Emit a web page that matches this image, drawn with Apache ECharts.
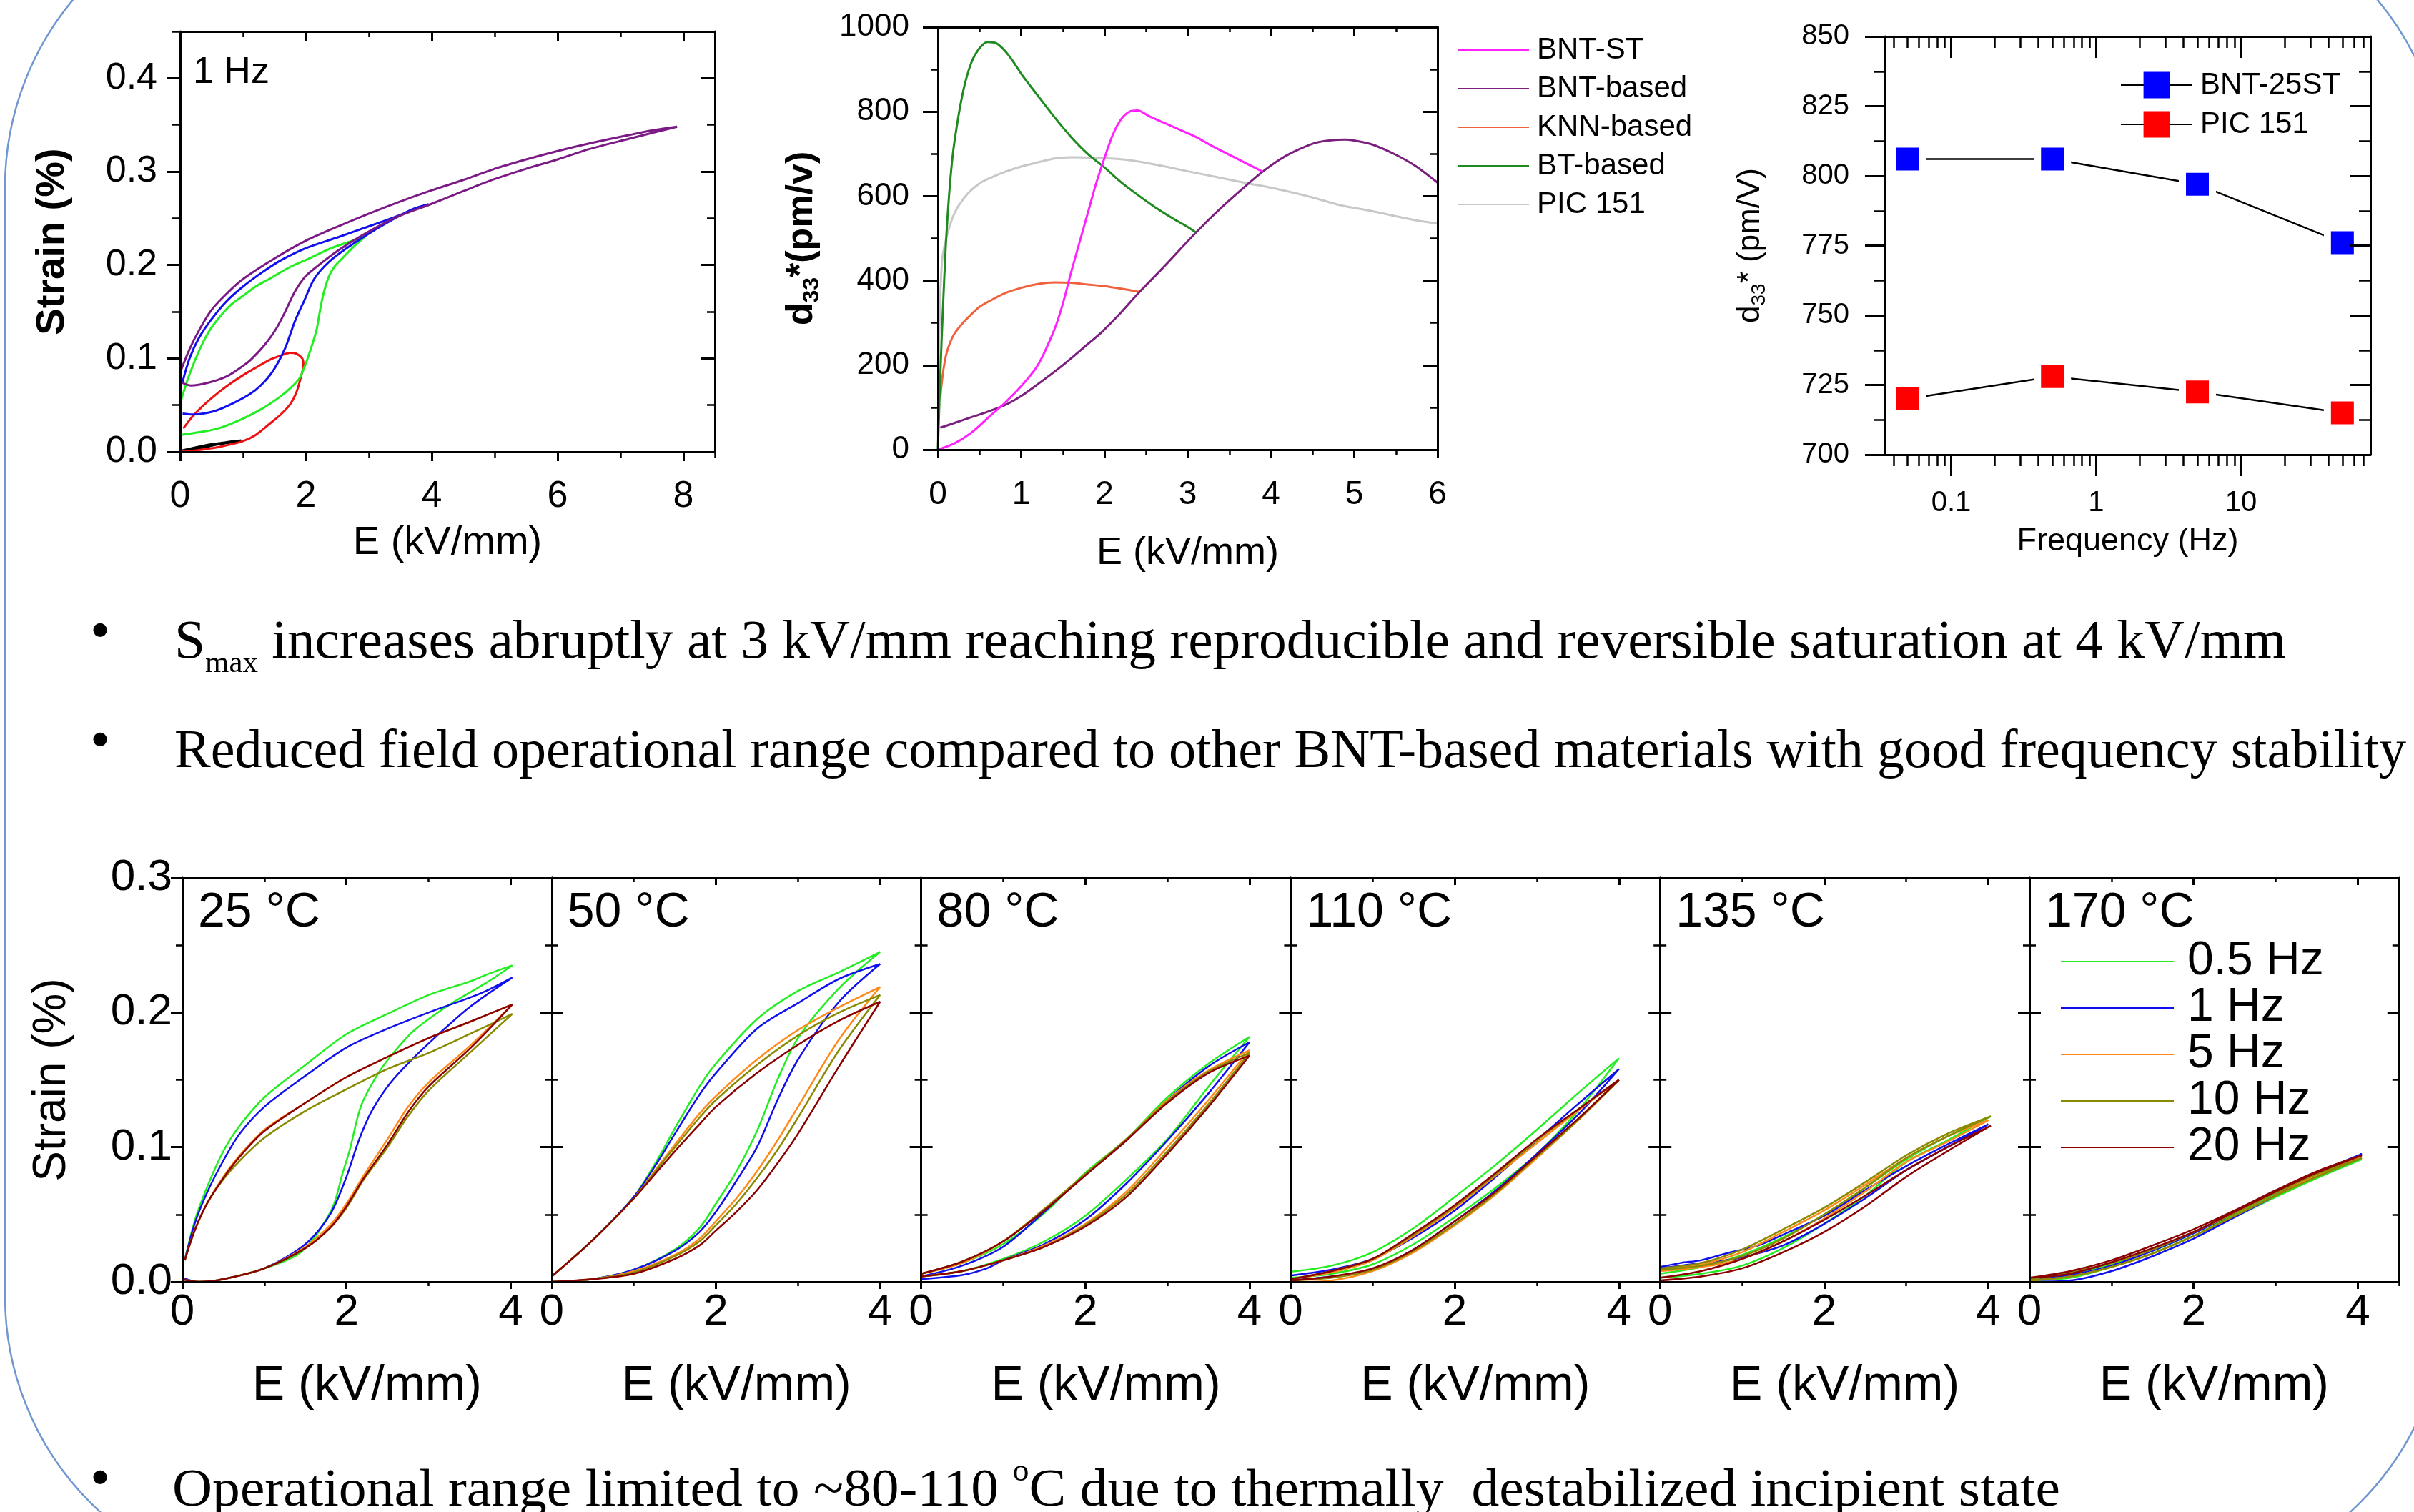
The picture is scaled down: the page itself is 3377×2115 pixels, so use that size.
<!DOCTYPE html>
<html><head><meta charset="utf-8">
<script src="https://cdn.jsdelivr.net/npm/echarts@6/dist/echarts.min.js"></script>
<style>html,body{margin:0;padding:0;background:#fff}#c{width:3377px;height:2115px}</style>
</head><body><div id="c"></div>
<script>
// ================= DATA =================
// --- Top-left: strain loops at 1 Hz for different max fields ---
const TL_1kV = [[0,0],[0.2,0.002],[0.4,0.005],[0.6,0.008],[0.8,0.010],[0.97,0.012],[0.8,0.011],[0.6,0.009],[0.4,0.007],[0.2,0.004],[0,0.001]];
const TL_2kV = [[0,0],[0.3,0.002],[0.6,0.005],[0.98,0.011],[1.2,0.018],[1.44,0.031],[1.6,0.04],[1.75,0.051],[1.85,0.064],[1.92,0.08],[1.96,0.093],[1.94,0.1],[1.85,0.105],[1.75,0.106],[1.6,0.103],[1.44,0.099],[1.2,0.09],[1.0,0.082],[0.82,0.074],[0.6,0.063],[0.36,0.049],[0.2,0.038],[0.05,0.025]];
const TL_3kV = [[0,0.018],[0.3,0.021],[0.6,0.025],[0.98,0.035],[1.3,0.046],[1.59,0.059],[1.75,0.068],[1.9,0.079],[2.0,0.095],[2.1,0.115],[2.17,0.131],[2.22,0.15],[2.27,0.167],[2.36,0.187],[2.45,0.198],[2.59,0.208],[2.75,0.219],[2.94,0.23],
  [2.7,0.225],[2.4,0.218],[2.05,0.207],[1.75,0.198],[1.44,0.186],[1.2,0.177],[1.0,0.167],[0.8,0.157],[0.6,0.142],[0.45,0.128],[0.3,0.108],[0.15,0.083],[0.05,0.063],[0,0.052]];
const TL_4kV = [[0.04,0.041],[0.2,0.040],[0.52,0.043],[0.75,0.049],[1.09,0.061],[1.28,0.071],[1.48,0.087],[1.67,0.111],[1.82,0.139],[1.98,0.163],[2.13,0.185],[2.36,0.203],[2.67,0.219],[3.13,0.239],[3.67,0.259],[3.95,0.265],
  [3.67,0.258],[3.28,0.248],[2.9,0.239],[2.52,0.23],[2.0,0.218],[1.6,0.205],[1.3,0.192],[1.0,0.177],[0.75,0.162],[0.5,0.142],[0.3,0.122],[0.15,0.1],[0.04,0.075]];
const TL_8kV = [[0,0.075],[0.17,0.071],[0.45,0.074],[0.75,0.081],[1.0,0.092],[1.13,0.099],[1.35,0.115],[1.52,0.131],[1.67,0.15],[1.82,0.171],[1.98,0.187],[2.13,0.196],[2.5,0.215],[2.9,0.232],[3.4,0.25],[3.98,0.265],[4.5,0.279],[5.0,0.292],[5.5,0.303],[6.0,0.313],[6.5,0.324],[7.13,0.335],[7.6,0.343],[7.9,0.348],
  [7.5,0.344],[7.13,0.339],[6.5,0.33],[6.0,0.322],[5.5,0.313],[5.0,0.303],[4.5,0.291],[4.0,0.28],[3.5,0.268],[3.0,0.255],[2.5,0.241],[2.0,0.226],[1.5,0.207],[1.0,0.185],[0.75,0.17],[0.5,0.152],[0.3,0.13],[0.15,0.11],[0,0.085]];

// --- Top-middle: d33* vs E ---
const MID_NAMES = ['BNT-ST','BNT-based','KNN-based','BT-based','PIC 151'];
const MID_BNT_ST = [[0,0],[0.2,15],[0.4,40],[0.6,75],[0.8,110],[1.0,150],[1.2,200],[1.4,285],[1.5,345],[1.6,420],[1.7,490],[1.8,560],[1.9,630],[2.0,690],[2.1,745],[2.2,782],[2.3,800],[2.4,803],[2.53,790],[2.7,775],[3.0,749],[3.1,740],[3.3,718],[3.6,688],[3.9,658]];
const MID_BNT_BASED = [[0.03,52],[0.3,70],[0.6,90],[0.8,105],[1.0,127],[1.2,155],[1.5,200],[1.8,250],[1.96,277],[2.2,325],[2.42,373],[2.7,430],[3.1,514],[3.4,572],[3.73,630],[3.9,658],[4.1,686],[4.25,703],[4.53,726],[4.7,732],[4.9,734],[5.1,728],[5.25,720],[5.5,698],[5.73,672],[6.0,632]];
const MID_KNN = [[0.03,125],[0.06,180],[0.1,225],[0.15,255],[0.2,275],[0.3,300],[0.4,320],[0.5,338],[0.65,355],[0.8,370],[1.0,383],[1.2,392],[1.4,396],[1.6,395],[1.8,391],[2.0,387],[2.2,381],[2.43,373]];
const MID_BT = [[0,0],[0.03,180],[0.06,330],[0.1,500],[0.15,640],[0.2,730],[0.3,845],[0.4,915],[0.5,950],[0.6,965],[0.7,962],[0.8,945],[0.9,920],[1.0,890],[1.2,838],[1.4,787],[1.6,740],[1.8,700],[2.0,668],[2.2,633],[2.4,603],[2.6,575],[2.8,550],[3.0,527],[3.1,514]];
const MID_PIC = [[0,0],[0.02,300],[0.05,445],[0.1,500],[0.2,560],[0.35,604],[0.5,630],[0.65,645],[0.8,657],[1.0,670],[1.2,680],[1.4,689],[1.6,692],[1.96,690],[2.27,686],[2.6,675],[3.1,655],[3.73,630],[4.0,620],[4.5,597],[4.82,579],[5.2,565],[5.73,543],[6.0,535]];

// --- Top-right: d33* vs frequency ---
const FREQ = [0.05, 0.5, 5, 50];
const D33_BNT25ST = [806, 806, 797, 776];
const D33_PIC151 = [720, 728, 722.5, 715];
const FREQ_TICKS = [0.1, 1, 10];
const FREQ_MINOR = [0.04,0.05,0.06,0.07,0.08,0.09,0.2,0.3,0.4,0.5,0.6,0.7,0.8,0.9,2,3,4,5,6,7,8,9,20,30,40,50,60,70];

// --- Bottom: strain loops per temperature, per frequency ---
const FREQ_NAMES = ['0.5 Hz','1 Hz','5 Hz','10 Hz','20 Hz'];
const TEMPS = ['25 °C','50 °C','80 °C','110 °C','135 °C','170 °C'];

const T25_05 = [[0,0.003],[0.2,0],[0.5,0.002],[1.0,0.01],[1.4,0.02],[1.6,0.032],[1.75,0.046],[1.85,0.058],[1.95,0.08],[2.04,0.098],[2.18,0.131],[2.4,0.156],[2.6,0.172],[2.83,0.187],[3.26,0.206],[3.7,0.222],[4.02,0.235],[3.7,0.228],[3.5,0.223],[3.0,0.213],[2.5,0.199],[2.0,0.184],[1.5,0.161],[1.0,0.137],[0.7,0.116],[0.5,0.097],[0.3,0.07],[0.15,0.045],[0.03,0.016]];
const T25_1 = [[0,0.003],[0.2,0],[0.5,0.002],[1.0,0.01],[1.5,0.028],[1.8,0.05],[2.0,0.078],[2.15,0.105],[2.3,0.126],[2.5,0.145],[2.7,0.159],[3.0,0.177],[3.5,0.204],[4.02,0.226],[3.7,0.216],[3.5,0.211],[3.0,0.2],[2.5,0.188],[2.0,0.174],[1.5,0.153],[1.0,0.13],[0.7,0.11],[0.5,0.09],[0.3,0.066],[0.15,0.043],[0.03,0.016]];
const T25_5 = [[0,0.002],[0.2,0],[0.5,0.002],[1.0,0.01],[1.5,0.026],[1.8,0.042],[2.0,0.058],[2.2,0.078],[2.5,0.106],[2.75,0.13],[3.0,0.148],[3.5,0.175],[4.02,0.206],[3.5,0.193],[3.0,0.181],[2.5,0.167],[2.0,0.152],[1.5,0.133],[1.0,0.113],[0.7,0.094],[0.5,0.078],[0.3,0.058],[0.15,0.038],[0.03,0.016]];
const T25_10 = [[0,0.002],[0.2,0],[0.5,0.002],[1.0,0.01],[1.5,0.025],[1.8,0.04],[2.0,0.055],[2.2,0.075],[2.5,0.1],[2.75,0.123],[3.0,0.142],[3.5,0.17],[4.02,0.199],[3.5,0.184],[3.0,0.17],[2.5,0.158],[2.0,0.143],[1.5,0.127],[1.0,0.107],[0.7,0.09],[0.5,0.076],[0.3,0.058],[0.15,0.038],[0.03,0.016]];
const T25_20 = [[0,0.002],[0.2,0],[0.5,0.002],[1.0,0.01],[1.5,0.025],[1.8,0.04],[2.0,0.056],[2.2,0.076],[2.5,0.102],[2.75,0.126],[3.0,0.145],[3.5,0.173],[4.02,0.206],[3.5,0.193],[3.0,0.181],[2.5,0.167],[2.0,0.152],[1.5,0.133],[1.0,0.112],[0.7,0.093],[0.5,0.077],[0.3,0.058],[0.15,0.038],[0.03,0.016]];

const T50_05 = [[0,0],[0.5,0.002],[1.0,0.009],[1.5,0.024],[1.8,0.04],[2.0,0.058],[2.25,0.082],[2.5,0.112],[2.75,0.15],[3.0,0.181],[3.5,0.218],[4.0,0.245],[3.5,0.23],[3.0,0.216],[2.5,0.195],[2.0,0.162],[1.8,0.145],[1.5,0.114],[1.3,0.092],[1.0,0.063],[0.5,0.031],[0,0.004]];
const T50_1 = [[0,0],[0.5,0.002],[1.0,0.009],[1.5,0.023],[1.8,0.037],[2.0,0.052],[2.25,0.075],[2.5,0.1],[2.75,0.135],[3.0,0.165],[3.5,0.208],[4.0,0.236],[3.5,0.225],[3.0,0.207],[2.5,0.188],[2.0,0.155],[1.8,0.139],[1.5,0.11],[1.3,0.09],[1.0,0.063],[0.5,0.031],[0,0.004]];
const T50_5 = [[0,0],[0.5,0.002],[1.0,0.008],[1.5,0.02],[1.8,0.032],[2.0,0.045],[2.25,0.062],[2.5,0.082],[2.75,0.105],[3.0,0.13],[3.5,0.18],[4.0,0.219],[3.5,0.204],[3.0,0.187],[2.5,0.165],[2.0,0.138],[1.8,0.125],[1.5,0.102],[1.3,0.086],[1.0,0.062],[0.5,0.031],[0,0.004]];
const T50_10 = [[0,0],[0.5,0.002],[1.0,0.007],[1.5,0.019],[1.8,0.03],[2.0,0.042],[2.25,0.058],[2.5,0.077],[2.75,0.098],[3.0,0.122],[3.5,0.172],[4.0,0.213],[3.5,0.2],[3.0,0.183],[2.5,0.161],[2.0,0.135],[1.8,0.122],[1.5,0.1],[1.3,0.085],[1.0,0.062],[0.5,0.031],[0,0.004]];
const T50_20 = [[0,0],[0.5,0.002],[1.0,0.006],[1.5,0.017],[1.8,0.027],[2.0,0.038],[2.25,0.052],[2.5,0.068],[2.75,0.088],[3.0,0.11],[3.5,0.16],[4.0,0.208],[3.5,0.194],[3.0,0.176],[2.5,0.155],[2.0,0.13],[1.8,0.117],[1.5,0.097],[1.3,0.083],[1.0,0.062],[0.5,0.031],[0,0.004]];

const T80_05 = [[0,0.004],[0.5,0.008],[1.0,0.017],[1.5,0.03],[2.0,0.049],[2.5,0.076],[3.0,0.106],[3.5,0.145],[4.0,0.182],[3.5,0.162],[3.0,0.137],[2.5,0.106],[2.0,0.081],[1.5,0.051],[1.0,0.028],[0.5,0.014],[0,0.006]];
const T80_1 = [[0,0.002],[0.5,0.005],[0.8,0.01],[1.0,0.016],[1.5,0.028],[2.0,0.046],[2.5,0.073],[3.0,0.105],[3.5,0.14],[4.0,0.178],[3.5,0.16],[3.0,0.135],[2.5,0.105],[2.0,0.08],[1.5,0.052],[1.0,0.026],[0.5,0.012],[0,0.004]];
const T80_5 = [[0,0.004],[0.5,0.008],[1.0,0.016],[1.5,0.027],[2.0,0.043],[2.5,0.067],[3.0,0.1],[3.5,0.135],[4.0,0.172],[3.5,0.157],[3.0,0.135],[2.5,0.106],[2.0,0.08],[1.5,0.054],[1.0,0.03],[0.5,0.014],[0,0.006]];
const T80_10 = [[0,0.004],[0.5,0.008],[1.0,0.016],[1.5,0.026],[2.0,0.042],[2.5,0.065],[3.0,0.097],[3.5,0.132],[4.0,0.17],[3.5,0.156],[3.0,0.134],[2.5,0.106],[2.0,0.08],[1.5,0.054],[1.0,0.03],[0.5,0.015],[0,0.006]];
const T80_20 = [[0,0.004],[0.5,0.008],[1.0,0.016],[1.5,0.026],[2.0,0.041],[2.5,0.063],[3.0,0.095],[3.5,0.13],[4.0,0.168],[3.5,0.155],[3.0,0.133],[2.5,0.105],[2.0,0.079],[1.5,0.053],[1.0,0.03],[0.5,0.015],[0,0.006]];

const T110_05 = [[0,0.003],[0.5,0.006],[1.0,0.013],[1.5,0.028],[2.0,0.048],[2.5,0.07],[3.0,0.095],[3.5,0.127],[4.0,0.166],[3.5,0.14],[3.0,0.113],[2.5,0.087],[2.0,0.063],[1.5,0.04],[1.0,0.022],[0.5,0.012],[0,0.0075]];
const T110_1 = [[0,0.001],[0.5,0.004],[1.0,0.009],[1.5,0.024],[2.0,0.045],[2.5,0.068],[3.0,0.095],[3.5,0.124],[4.0,0.158],[3.5,0.132],[3.0,0.105],[2.5,0.078],[2.0,0.053],[1.5,0.033],[1.0,0.017],[0.5,0.009],[0,0.0047]];
const T110_5 = [[0.1,0],[0.5,0.001],[1.0,0.008],[1.5,0.022],[2.0,0.042],[2.5,0.065],[3.0,0.092],[3.5,0.12],[4.0,0.15],[3.5,0.127],[3.0,0.103],[2.5,0.079],[2.0,0.055],[1.5,0.034],[1.0,0.016],[0.5,0.007],[0,0.002]];
const T110_10 = [[0,0.001],[0.5,0.003],[1.0,0.009],[1.5,0.023],[2.0,0.043],[2.5,0.066],[3.0,0.093],[3.5,0.12],[4.0,0.15],[3.5,0.128],[3.0,0.105],[2.5,0.08],[2.0,0.056],[1.5,0.035],[1.0,0.017],[0.5,0.008],[0,0.002]];
const T110_20 = [[0,0.001],[0.5,0.004],[1.0,0.01],[1.5,0.024],[2.0,0.045],[2.5,0.067],[3.0,0.094],[3.5,0.121],[4.0,0.15],[3.5,0.128],[3.0,0.106],[2.5,0.081],[2.0,0.057],[1.5,0.036],[1.0,0.017],[0.5,0.008],[0,0.002]];

const T135_05 = [[0,0.003],[0.5,0.006],[1.0,0.012],[1.5,0.025],[2.0,0.043],[2.5,0.064],[3.0,0.089],[3.5,0.105],[4.03,0.123],[3.5,0.108],[3.0,0.091],[2.5,0.07],[2.0,0.05],[1.5,0.033],[1.0,0.02],[0.5,0.011],[0,0.006]];
const T135_1 = [[0,0.01],[0.25,0.012],[0.5,0.014],[0.8,0.016],[1.0,0.018],[1.5,0.027],[2.0,0.043],[2.5,0.062],[3.0,0.083],[3.5,0.1],[4.0,0.117],[3.5,0.102],[3.0,0.086],[2.5,0.068],[2.0,0.049],[1.5,0.035],[1.2,0.027],[0.8,0.021],[0.5,0.016],[0.25,0.014],[0,0.011]];
const T135_5 = [[0,0.008],[0.5,0.011],[1.0,0.017],[1.5,0.03],[2.0,0.047],[2.5,0.067],[3.0,0.089],[3.5,0.104],[4.0,0.12],[3.5,0.108],[3.0,0.092],[2.5,0.072],[2.0,0.053],[1.5,0.037],[1.0,0.022],[0.5,0.013],[0,0.009]];
const T135_10 = [[0,0.009],[0.5,0.012],[1.0,0.019],[1.5,0.032],[2.0,0.05],[2.5,0.07],[3.0,0.092],[3.5,0.108],[4.03,0.123],[3.5,0.11],[3.0,0.094],[2.5,0.074],[2.0,0.055],[1.5,0.039],[1.0,0.024],[0.5,0.014],[0,0.01]];
const T135_20 = [[0,0.001],[0.5,0.004],[1.0,0.01],[1.5,0.022],[2.0,0.037],[2.5,0.056],[3.0,0.078],[3.5,0.097],[4.03,0.116],[3.5,0.1],[3.0,0.083],[2.5,0.064],[2.0,0.046],[1.5,0.03],[1.0,0.017],[0.5,0.008],[0,0.003]];

const T170_05 = [[0,0.001],[0.5,0.003],[1.0,0.011],[1.5,0.021],[2.0,0.034],[2.5,0.048],[3.0,0.063],[3.5,0.077],[4.05,0.091],[3.5,0.079],[3.0,0.065],[2.5,0.05],[2.0,0.036],[1.5,0.023],[1.0,0.013],[0.5,0.006],[0,0.002]];
const T170_1 = [[0,0],[0.5,0.001],[1.0,0.008],[1.5,0.019],[2.0,0.032],[2.5,0.048],[3.0,0.064],[3.5,0.08],[4.05,0.095],[3.5,0.081],[3.0,0.066],[2.5,0.051],[2.0,0.036],[1.5,0.023],[1.0,0.012],[0.5,0.005],[0,0.001]];
const T170_5 = [[0,0.001],[0.5,0.004],[1.0,0.011],[1.5,0.021],[2.0,0.034],[2.5,0.049],[3.0,0.064],[3.5,0.079],[4.05,0.093],[3.5,0.08],[3.0,0.066],[2.5,0.051],[2.0,0.037],[1.5,0.024],[1.0,0.014],[0.5,0.007],[0,0.002]];
const T170_10 = [[0,0.001],[0.5,0.004],[1.0,0.011],[1.5,0.021],[2.0,0.034],[2.5,0.049],[3.0,0.064],[3.5,0.078],[4.05,0.092],[3.5,0.08],[3.0,0.066],[2.5,0.051],[2.0,0.037],[1.5,0.024],[1.0,0.014],[0.5,0.007],[0,0.002]];
const T170_20 = [[0,0.003],[0.5,0.006],[1.0,0.0145],[1.5,0.025],[2.0,0.037],[2.5,0.052],[3.0,0.067],[3.5,0.081],[4.05,0.094],[3.5,0.082],[3.0,0.068],[2.5,0.053],[2.0,0.039],[1.5,0.027],[1.0,0.016],[0.5,0.008],[0,0.003]];

const BOTTOM_CURVES = [
  [T25_05, T25_1, T25_5, T25_10, T25_20],
  [T50_05, T50_1, T50_5, T50_10, T50_20],
  [T80_05, T80_1, T80_5, T80_10, T80_20],
  [T110_05, T110_1, T110_5, T110_10, T110_20],
  [T135_05, T135_1, T135_5, T135_10, T135_20],
  [T170_05, T170_1, T170_5, T170_10, T170_20]
];

// --- Slide texts ---
const BULLET1_MAIN = 'S';
const BULLET1_SUB = 'max';
const BULLET1_REST = ' increases abruptly at 3 kV/mm reaching reproducible and reversible saturation at 4 kV/mm';
const BULLET2 = 'Reduced field operational range compared to other BNT-based materials with good frequency stability';
const BULLET3_A = 'Operational range limited to ~80-110 ';
const BULLET3_DEG = 'o';
const BULLET3_B = 'C due to thermally  destabilized incipient state';

// ================= STYLE / LAYOUT =================
const SANS = '"Liberation Sans", Arial, Helvetica, sans-serif';
const SERIF = '"Liberation Serif", "Times New Roman", serif';
const BOTTOM_COLORS = ['#22ee22', '#1010ee', '#ff8a1a', '#8a8a00', '#8b0000'];

const grids = [], xAxes = [], yAxes = [], series = [];

function mkAxis(dim, gi, s, pos, inside, major, main) {
  const isLog = s.type === 'log';
  const a = {
    type: s.type || 'value', gridIndex: gi, position: pos, min: s.min, max: s.max,
    axisLine: { show: major, onZero: false, lineStyle: { color: '#000', width: 3 } },
    axisTick: { show: true, inside: inside, length: major ? s.majLen : s.minLen, lineStyle: { color: '#000', width: major ? 3 : 2.5 } },
    axisLabel: { show: !!(main && s.labels), color: '#000', fontSize: s.labelSize, fontFamily: SANS, margin: s.labelMargin, formatter: s.fmt },
    splitLine: { show: false }, minorTick: { show: false }, minorSplitLine: { show: false },
    silent: true, z: 5
  };
  if (isLog) {
    a.logBase = 10;
    a.axisTick.customValues = major ? s.majorVals : s.minorVals;
    a.axisLabel.customValues = s.majorVals;
  } else {
    a.interval = major ? s.interval : s.minor;
  }
  if (main && s.hideMax) a.axisLabel.showMaxLabel = false;
  if (main && s.name) {
    a.name = s.name; a.nameLocation = 'middle'; a.nameGap = s.nameGap;
    a.nameRotate = dim === 'y' ? 90 : 0;
    a.nameTextStyle = { color: '#000', fontSize: s.nameSize, fontFamily: SANS, fontWeight: s.nameBold ? 'bold' : 'normal', rich: s.rich };
  }
  return a;
}

function addGrid(g) {
  const gi = grids.length;
  grids.push({ left: g.left, top: g.top, width: g.width, height: g.height, containLabel: false, outerBoundsMode: 'none', show: false });
  const xi = xAxes.length, yi = yAxes.length;
  xAxes.push(mkAxis('x', gi, g.x, 'bottom', false, true, true));
  xAxes.push(mkAxis('x', gi, g.x, 'bottom', false, false, false));
  xAxes.push(mkAxis('x', gi, g.x, 'top', true, true, false));
  xAxes.push(mkAxis('x', gi, g.x, 'top', true, false, false));
  yAxes.push(mkAxis('y', gi, g.y, 'left', !!g.leftInside, true, true));
  yAxes.push(mkAxis('y', gi, g.y, 'left', !!g.leftInside, false, false));
  yAxes.push(mkAxis('y', gi, g.y, 'right', true, true, false));
  yAxes.push(mkAxis('y', gi, g.y, 'right', true, false, false));
  return { xi, yi };
}

function lineSeries(name, data, color, ax, width) {
  return { type: 'line', name, data, xAxisIndex: ax.xi, yAxisIndex: ax.yi, showSymbol: false, symbol: 'none',
    smooth: 0.3, lineStyle: { color, width: width || 3 }, itemStyle: { color }, silent: true, clip: true, z: 3 };
}

// ---- Top-left ----
const axTL = addGrid({
  left: 252, top: 44, width: 748, height: 588,
  x: { min: 0, max: 8.5, interval: 2, minor: 1, labels: true, hideMax: true, labelSize: 52, labelMargin: 37, majLen: 13, minLen: 8,
       fmt: v => String(v), name: 'E (kV/mm)', nameGap: 100, nameSize: 56 },
  y: { min: 0, max: 0.45, interval: 0.1, minor: 0.05, labels: true, hideMax: true, labelSize: 52, labelMargin: 32, majLen: 19, minLen: 11,
       fmt: v => v.toFixed(1), name: 'Strain (%)', nameGap: 150, nameSize: 56, nameBold: true }
});
series.push(lineSeries('tl1', TL_1kV, '#000000', axTL, 3));
series.push(lineSeries('tl2', TL_2kV, '#ee1111', axTL, 3));
series.push(lineSeries('tl3', TL_3kV, '#22ee22', axTL, 3));
series.push(lineSeries('tl4', TL_4kV, '#1010ee', axTL, 3));
series.push(lineSeries('tl8', TL_8kV, '#7b1a85', axTL, 3));

// ---- Top-middle ----
const axMid = addGrid({
  left: 1312, top: 38, width: 699, height: 591,
  x: { min: 0, max: 6, interval: 1, minor: 0.5, labels: true, labelSize: 46, labelMargin: 40, majLen: 12, minLen: 7,
       fmt: v => String(v), name: 'E (kV/mm)', nameGap: 118, nameSize: 54 },
  y: { min: 0, max: 1000, interval: 200, minor: 100, labels: true, labelSize: 44, labelMargin: 40, majLen: 21, minLen: 10,
       fmt: v => String(v), name: '{t|d}{s|33}{t|*(pm/v)}', nameGap: 160, nameSize: 52, nameBold: true,
       rich: { t: { fontSize: 52, fontWeight: 'bold', fontFamily: SANS, color: '#000', lineHeight: 60 },
               s: { fontSize: 32, fontFamily: SANS, color: '#000', lineHeight: 24, verticalAlign: 'bottom' } } }
});
const MID_COLORS = { 'BNT-ST': '#ff22ff', 'BNT-based': '#7a1f7e', 'KNN-based': '#f0603c', 'BT-based': '#1f8a1f', 'PIC 151': '#c8c8c8' };
series.push(lineSeries('PIC 151', MID_PIC, MID_COLORS['PIC 151'], axMid, 3));
series.push(lineSeries('KNN-based', MID_KNN, MID_COLORS['KNN-based'], axMid, 3));
series.push(lineSeries('BNT-based', MID_BNT_BASED, MID_COLORS['BNT-based'], axMid, 3));
series.push(lineSeries('BT-based', MID_BT, MID_COLORS['BT-based'], axMid, 3));
series.push(lineSeries('BNT-ST', MID_BNT_ST, MID_COLORS['BNT-ST'], axMid, 3));

// ---- Top-right ----
const axTR = addGrid({
  left: 2637, top: 51, width: 679, height: 585,
  x: { type: 'log', min: 0.035, max: 78, majorVals: FREQ_TICKS, minorVals: FREQ_MINOR, labels: true, labelSize: 40, labelMargin: 48, majLen: 30, minLen: 16,
       fmt: v => (v < 1 ? (+v).toFixed(1) : String(Math.round(v))), name: 'Frequency (Hz)', nameGap: 99, nameSize: 45 },
  y: { min: 700, max: 850, interval: 25, minor: 12.5, labels: true, labelSize: 40, labelMargin: 50, majLen: 28, minLen: 16,
       fmt: v => String(v), name: '{t|d}{s|33}{t|* (pm/V)}', nameGap: 162, nameSize: 44,
       rich: { t: { fontSize: 44, fontFamily: SANS, color: '#000', lineHeight: 52 },
               s: { fontSize: 28, fontFamily: SANS, color: '#000', lineHeight: 22, verticalAlign: 'bottom' } } }
});
function markerSeries(name, vals, color) {
  return { type: 'line', name, data: FREQ.map((f, i) => [f, vals[i]]), xAxisIndex: axTR.xi, yAxisIndex: axTR.yi,
    symbol: 'rect', symbolSize: 42, showSymbol: true, smooth: false,
    lineStyle: { color: '#000', width: 2.5 }, itemStyle: { color, borderColor: '#ffffff', borderWidth: 10 }, silent: true, z: 3 };
}
series.push(markerSeries('BNT-25ST', D33_BNT25ST, '#0000ff'));
series.push(markerSeries('PIC 151 (f)', D33_PIC151, '#ff0000'));

// ---- Bottom panels ----
const PW = 516.8;
for (let p = 0; p < 6; p++) {
  const ax = addGrid({
    left: 255 + p * PW, top: 1228, width: PW, height: 565, leftInside: p > 0,
    x: { min: 0, max: 4.5, interval: 2, minor: 1, labels: true, hideMax: true, labelSize: 62, labelMargin: 12, majLen: 10, minLen: 6,
         fmt: v => String(v), name: 'E (kV/mm)', nameGap: 112, nameSize: 68 },
    y: { min: 0, max: 0.3, interval: 0.1, minor: 0.05, labels: p === 0, labelSize: 62, labelMargin: 14, majLen: 16, minLen: 9,
         fmt: v => v.toFixed(1), name: p === 0 ? 'Strain (%)' : null, nameGap: 150, nameSize: 64 }
  });
  BOTTOM_CURVES[p].forEach((d, k) => series.push(lineSeries(FREQ_NAMES[k], d, BOTTOM_COLORS[k], ax, 2.5)));
}

// ---- Text measurement for condensed slide text ----
const mctx = document.createElement('canvas').getContext('2d');
function tw(txt, fs) { mctx.font = fs + 'px ' + SERIF; return mctx.measureText(txt).width; }
const FS1 = 76, FSSUB = 42, FS3 = 74, FSDEG = 44;
const sx1 = 2954 / (tw(BULLET1_MAIN, FS1) + tw(BULLET1_SUB, FSSUB) + tw(BULLET1_REST, FS1));
const sx2 = 3122 / tw(BULLET2, FS1);
const sx3 = 2641 / (tw(BULLET3_A, FS3) + tw(BULLET3_DEG, FSDEG) + tw(BULLET3_B, FS3));

function sansText(txt, x, y, fs) {
  return { type: 'text', x, y, silent: true, z: 10, style: { text: txt, fontSize: fs, fontFamily: SANS, fill: '#000', align: 'left', verticalAlign: 'middle' } };
}
function bullet(y) {
  return { type: 'text', x: 140, y, silent: true, z: 10, style: { text: '\u2022', fontSize: 80, fontFamily: SERIF, fill: '#000', align: 'center', verticalAlign: 'middle' } };
}

const graphic = [
  { type: 'rect', silent: true, z: 0, shape: { x: 7, y: -147, width: 3414, height: 2369, r: 409 }, style: { fill: 'none', stroke: '#7097cf', lineWidth: 2.5 } },
  sansText('1 Hz', 270, 102, 52),
  bullet(887), bullet(1040), bullet(2072),
  { type: 'text', x: 244, y: 900, scaleX: sx1, silent: true, z: 10,
    style: { text: '{a|' + BULLET1_MAIN + '}{s|' + BULLET1_SUB + '}{a|' + BULLET1_REST + '}', align: 'left', verticalAlign: 'middle',
      rich: { a: { fontSize: FS1, fontFamily: SERIF, fill: '#000', lineHeight: 100 },
              s: { fontSize: FSSUB, fontFamily: SERIF, fill: '#000', lineHeight: 30, verticalAlign: 'bottom' } } } },
  { type: 'text', x: 244, y: 1053, scaleX: sx2, silent: true, z: 10,
    style: { text: BULLET2, fontSize: FS1, fontFamily: SERIF, fill: '#000', align: 'left', verticalAlign: 'middle' } },
  { type: 'text', x: 241, y: 2087, scaleX: sx3, silent: true, z: 10,
    style: { text: '{a|' + BULLET3_A + '}{o|' + BULLET3_DEG + '}{a|' + BULLET3_B + '}', align: 'left', verticalAlign: 'middle',
      rich: { a: { fontSize: FS3, fontFamily: SERIF, fill: '#000', lineHeight: 100 },
              o: { fontSize: FSDEG, fontFamily: SERIF, fill: '#000', lineHeight: 22, verticalAlign: 'top' } } } }
];
TEMPS.forEach((t, p) => graphic.push(sansText(t, 255 + p * PW + 22, 1277, 68)));

const legendBase = { orient: 'vertical', selectedMode: false, backgroundColor: 'transparent' };
const legends = [
  Object.assign({}, legendBase, { left: 2033, top: 43, itemWidth: 100, itemHeight: 14, itemGap: 10, data: MID_NAMES,
    itemStyle: { opacity: 0 },
    textStyle: { fontSize: 42, fontFamily: SANS, color: '#000', lineHeight: 44, padding: [0, 0, 0, 6] } }),
  Object.assign({}, legendBase, { left: 2961, top: 92, itemWidth: 100, itemHeight: 46, itemGap: 11, data: ['BNT-25ST', 'PIC 151 (f)'],
    itemStyle: { borderWidth: 0 },
    formatter: n => n.replace(' (f)', ''),
    textStyle: { fontSize: 42, fontFamily: SANS, color: '#000', lineHeight: 44, padding: [0, 0, 0, 6] } }),
  Object.assign({}, legendBase, { left: 2877, top: 1307, itemWidth: 158, itemHeight: 14, itemGap: -1, data: FREQ_NAMES,
    itemStyle: { opacity: 0 },
    textStyle: { fontSize: 66, fontFamily: SANS, color: '#000', lineHeight: 60, padding: [0, 0, 0, 14] } })
];

const chart = echarts.init(document.getElementById('c'), null, { renderer: 'canvas', width: 3377, height: 2115 });
chart.setOption({
  animation: false, backgroundColor: '#ffffff',
  grid: grids, xAxis: xAxes, yAxis: yAxes, series: series, legend: legends, graphic: graphic
});
</script></body></html>
